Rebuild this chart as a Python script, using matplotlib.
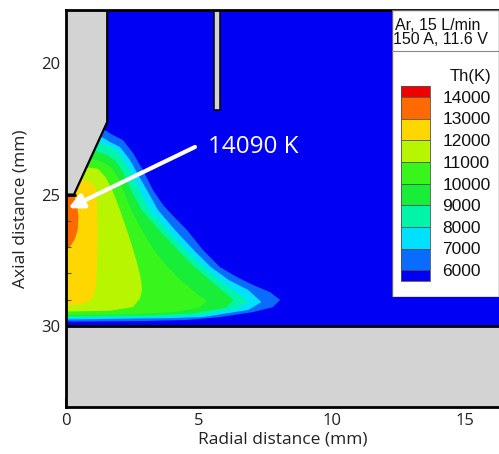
import matplotlib
matplotlib.use("Agg")
import matplotlib.pyplot as plt
from matplotlib.colors import ListedColormap, BoundaryNorm
from matplotlib.cm import ScalarMappable
from matplotlib.patches import Rectangle

# ---------------- data ----------------
levels = [6000, 7000, 8000, 9000, 10000, 11000, 12000, 13000, 14000]
band_colors = ["#0a6cff", "#00e1ff", "#00f5a8", "#18ee38",
               "#38f61c", "#b8f500", "#ffd700", "#ff6a00"]
under_color = "#0000f5"
over_color = "#f00000"

# contour outlines (radial mm, axial mm)
c6000_x = [0, 1.30, 1.77, 2.14, 2.52, 2.89, 3.27, 3.65, 4.10, 4.55, 5.15, 5.79, 6.43, 7.03, 7.67, 8.05, 7.78, 7.03, 5.79, 4.55, 3.00, 0]
c6000_y = [24.9, 22.45, 22.74, 22.93, 23.42, 24.07, 24.83, 25.40, 25.89, 26.35, 27.11, 27.76, 28.14, 28.44, 28.71, 29.01, 29.28, 29.47, 29.66, 29.77, 29.81, 29.83]
c7000_x = [0, 1.25, 1.65, 2.03, 2.41, 2.78, 3.08, 3.46, 4.10, 4.80, 5.45, 6.12, 6.85, 7.35, 6.85, 5.15, 3.91, 0]
c7000_y = [24.9, 22.75, 23.00, 23.19, 23.69, 24.37, 24.90, 25.59, 26.35, 27.11, 27.76, 28.25, 28.63, 29.09, 29.39, 29.66, 29.70, 29.75]
c8000_x = [0, 1.10, 1.65, 1.95, 2.29, 2.59, 2.80, 3.15, 3.80, 4.50, 5.10, 5.75, 6.45, 6.85, 6.45, 5.10, 3.53, 0]
c8000_y = [24.9, 22.98, 23.19, 23.38, 23.88, 24.45, 24.90, 25.59, 26.35, 27.11, 27.68, 28.25, 28.75, 29.05, 29.32, 29.58, 29.66, 29.70]
c9000_x = [0, 1.00, 1.54, 1.84, 2.14, 2.48, 2.85, 3.50, 4.20, 4.75, 5.40, 5.95, 6.30, 6.00, 4.80, 3.20, 0]
c9000_y = [24.9, 23.3, 23.50, 23.69, 24.14, 24.90, 25.59, 26.35, 27.11, 27.68, 28.25, 28.71, 29.02, 29.30, 29.52, 29.59, 29.62]
c10000_x = [0, 0.90, 1.40, 1.72, 1.98, 2.18, 2.45, 2.85, 3.30, 3.75, 4.30, 4.85, 5.30, 5.00, 4.00, 2.50, 0]
c10000_y = [24.9, 23.6, 23.78, 23.98, 24.40, 24.90, 25.59, 26.35, 27.11, 27.68, 28.25, 28.71, 29.05, 29.30, 29.48, 29.55, 29.58]
c11000_x = [0, 0.70, 1.20, 1.50, 1.77, 2.03, 2.29, 2.50, 2.67, 2.82, 2.86, 2.78, 2.52, 1.65, 0]
c11000_y = [24.9, 23.95, 24.02, 24.35, 24.90, 25.59, 26.35, 27.0, 27.60, 28.2, 28.63, 28.95, 29.28, 29.42, 29.45]
c12000_x = [0, 0.2, 0.6, 0.98, 1.12, 1.17, 1.19, 1.17, 1.12, 1.0, 0.65, 0]
c12000_y = [24.95, 24.2, 24.4, 24.55, 24.8, 25.3, 26.5, 27.6, 28.5, 28.95, 29.17, 29.24]
c13000_x = [0, 0.30, 0.42, 0.47, 0.44, 0.32, 0.14, 0]
c13000_y = [24.98, 25.02, 25.4, 25.85, 26.35, 26.72, 27.0, 27.08]

# geometry (mm)
cone_x = [0, 1.55, 1.55, 0.30, 0]
cone_y = [17.0, 17.0, 22.24, 25.0, 25.0]
wall_y = 30.0
probe_x = [5.58, 5.78, 5.78, 5.58]
probe_y = [17.0, 17.0, 21.8, 21.8]

peak_label = "14090 K"
peak_xy = (0.09, 25.52)
label_xy = (4.85, 23.19)

x_range = (0, 16.28)
y_range = (33.08, 17.98)

# ---------------- figure ----------------
W, H = 499, 454
fig = plt.figure(figsize=(W / 100, H / 100), dpi=100)
ax = fig.add_axes([66 / W, 1 - 407 / H, (W - 66) / W, 397 / H])
ax.set_facecolor(under_color)

font_main = "Open Sans"
font_leg = "Liberation Sans"

contours = [(c6000_x, c6000_y), (c7000_x, c7000_y), (c8000_x, c8000_y),
            (c9000_x, c9000_y), (c10000_x, c10000_y), (c11000_x, c11000_y),
            (c12000_x, c12000_y), (c13000_x, c13000_y)]
for (cx, cy), col in zip(contours, band_colors):
    ax.fill(cx, cy, color=col, lw=0, zorder=1)

gray = "#d3d3d3"
ax.fill(cone_x, cone_y, facecolor=gray, edgecolor="none", zorder=3)
ax.plot(cone_x[1:], cone_y[1:], color="black", lw=1.6, zorder=4)
ax.axhspan(wall_y, 40, facecolor=gray, edgecolor="none", zorder=3)
ax.axhline(wall_y, color="black", lw=2, zorder=4)
ax.fill(probe_x, probe_y, facecolor=gray, edgecolor="black", lw=1.1, zorder=4)

ax.annotate("", xy=peak_xy, xytext=label_xy,
            arrowprops=dict(arrowstyle="-|>", color="white", lw=3,
                            mutation_scale=22, shrinkA=0, shrinkB=0),
            zorder=6)
ax.text(label_xy[0] + 0.5, label_xy[1], peak_label, color="white",
        fontsize=17.5, family=font_main, va="center", ha="left", zorder=6)

ax.set_xlim(*x_range)
ax.set_ylim(*y_range)
ax.set_xticks([0, 5, 10, 15])
ax.set_yticks([20, 25, 30])
ax.set_xticks(range(0, 17), minor=True)
ax.set_yticks(range(18, 34), minor=True)
ax.tick_params(which="major", direction="in", length=7, width=2, labelsize=12,
               pad=4, top=False, right=False)
ax.tick_params(which="minor", direction="in", length=3.5, width=0.8,
               color="#555555", top=False, right=False)
for lbl in ax.get_xticklabels() + ax.get_yticklabels():
    lbl.set_family(font_main)
    lbl.set_color("#222222")
ax.set_xlabel("Radial distance (mm)", fontsize=12.5, family=font_main,
              color="#222222", labelpad=2)
ax.set_ylabel("Axial distance (mm)", fontsize=12.5, family=font_main,
              color="#222222", labelpad=9)
for s in ["left", "bottom", "top"]:
    ax.spines[s].set_linewidth(2)
    ax.spines[s].set_zorder(7)
ax.spines["right"].set_visible(False)

# ---------------- legend box ----------------
lax = fig.add_axes([392 / W, 1 - 297 / H, 107 / W, 287 / H])
lax.set_xlim(0, 107)
lax.set_ylim(287, 0)
lax.axis("off")
lax.add_patch(Rectangle((0, 0), 107, 287, facecolor="white",
                        edgecolor="#666666", lw=1.0))
lax.text(3, 15, "Ar, 15 L/min", fontsize=11.5, family=font_leg,
         va="center", ha="left", color="#111111")
lax.text(1, 29, "150 A, 11.6 V", fontsize=11.5, family=font_leg,
         va="center", ha="left", color="#111111")
lax.plot([0, 107], [41, 41], color="#888888", lw=0.8)
lax.text(78, 66, "Th(K)", fontsize=12, family=font_leg, va="center",
         ha="center", color="#111111")

cax = fig.add_axes([401 / W, 1 - 281 / H, 29 / W, 195 / H])
cmap = ListedColormap(band_colors)
cmap.set_under(under_color)
cmap.set_over(over_color)
norm = BoundaryNorm(levels, ncolors=len(band_colors))
sm = ScalarMappable(norm=norm, cmap=cmap)
cb = fig.colorbar(sm, cax=cax, extend="both", extendrect=True,
                  extendfrac=0.0625, drawedges=True, ticks=levels)
cb.dividers.set_color("#505050")
cb.dividers.set_linewidth(0.6)
cb.outline.set_edgecolor("#505050")
cb.outline.set_linewidth(0.6)
cax.tick_params(length=0, pad=9, labelsize=12.5)
for lbl in cax.get_yticklabels():
    lbl.set_family(font_leg)
    lbl.set_color("#111111")

fig.savefig("out.png", dpi=100)
